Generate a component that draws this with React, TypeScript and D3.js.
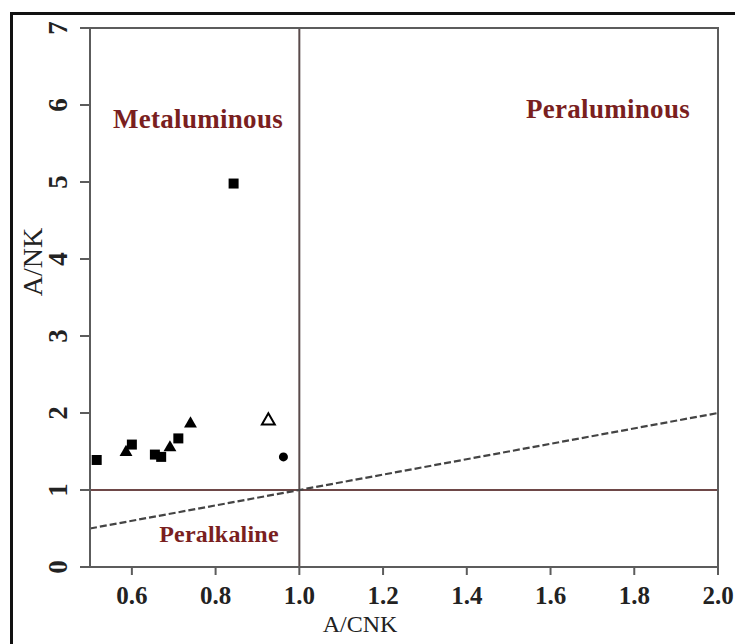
import React from "react";
import * as d3 from "d3";

const xTicks = [0.6, 0.8, 1.0, 1.2, 1.4, 1.6, 1.8, 2.0];
const yTicks = [0, 1, 2, 3, 4, 5, 6, 7];

const squareX = [0.843, 0.516, 0.6, 0.655, 0.67, 0.711];
const squareY = [4.98, 1.39, 1.59, 1.46, 1.43, 1.67];
const triangleX = [0.586, 0.691, 0.74];
const triangleY = [1.49, 1.55, 1.86];
const openTriangleX = [0.926];
const openTriangleY = [1.9];
const circleX = [0.962];
const circleY = [1.43];

const boundaryX = [0.5, 2.0];
const boundaryY = [0.5, 2.0];

const regionLabels = ["Metaluminous", "Peraluminous", "Peralkaline"];

const SERIF = "'Liberation Serif', 'Times New Roman', Times, serif";
const RED = "#7a1f1f";
const AXIS = "#5c5c5c";

export default function App() {
  const W = 735;
  const H = 644;
  const x = d3.scaleLinear().domain([0.5, 2.0]).range([90, 718]);
  const y = d3.scaleLinear().domain([0, 7]).range([567, 28]);

  const sq = d3.symbol().type(d3.symbolSquare).size(100)();
  const tri = d3.symbol().type(d3.symbolTriangle).size(72)();
  const circ = d3.symbol().type(d3.symbolCircle).size(64)();

  const dashed = d3
    .line<number>()
    .x((d) => x(boundaryX[d]))
    .y((d) => y(boundaryY[d]))([0, 1]);

  return (
    <div style={{ position: "fixed", left: 0, top: 0, width: W, height: H, background: "#fff" }}>
      <svg width={W} height={H} style={{ display: "block" }}>
        <rect x={0} y={0} width={W} height={H} fill="#fff" />
        {/* outer frame */}
        <path d={`M11.5,${H + 5} L11.5,13.5 L${W + 5},13.5`} fill="none" stroke="#111" strokeWidth={3} />

        {/* region boundary lines */}
        <line x1={x(1.0)} x2={x(1.0)} y1={y(7)} y2={y(0)} stroke="#5a4b4b" strokeWidth={2} />
        <line x1={x(0.5)} x2={x(2.0)} y1={y(1)} y2={y(1)} stroke="#6e4848" strokeWidth={2} />
        <path d={dashed || ""} fill="none" stroke="#444" strokeWidth={2.2} strokeDasharray="7,3" />

        {/* plot frame */}
        <rect x={x(0.5)} y={y(7)} width={x(2.0) - x(0.5)} height={y(0) - y(7)} fill="none" stroke={AXIS} strokeWidth={2} />

        {/* y ticks */}
        {yTicks.map((t) => (
          <g key={"y" + t}>
            <line x1={x(0.5) - 10} x2={x(0.5)} y1={y(t)} y2={y(t)} stroke={AXIS} strokeWidth={2} />
            <text
              transform={`translate(67,${y(t)}) rotate(-90)`}
              textAnchor="middle"
              fontFamily={SERIF}
              fontWeight="bold"
              fontSize={27}
              fill="#222"
            >
              {t}
            </text>
          </g>
        ))}

        {/* x ticks */}
        {xTicks.map((t) => (
          <g key={"x" + t}>
            <line x1={x(t)} x2={x(t)} y1={y(0)} y2={y(0) + 8} stroke={AXIS} strokeWidth={2} />
            <text
              x={x(t)}
              y={604}
              textAnchor="middle"
              fontFamily={SERIF}
              fontWeight="bold"
              fontSize={25}
              fill="#222"
            >
              {t.toFixed(1)}
            </text>
          </g>
        ))}

        {/* axis titles */}
        <text x={360} y={632} textAnchor="middle" fontFamily={SERIF} fontSize={24} fill="#222">
          A/CNK
        </text>
        <text
          transform={`translate(42,262) rotate(-90)`}
          textAnchor="middle"
          fontFamily={SERIF}
          fontSize={28}
          fill="#222"
        >
          A/NK
        </text>

        {/* region labels */}
        <text x={198} y={128} textAnchor="middle" fontFamily={SERIF} fontWeight="bold" fontSize={27} fill={RED} letterSpacing={0.3}>
          {regionLabels[0]}
        </text>
        <text x={608} y={118} textAnchor="middle" fontFamily={SERIF} fontWeight="bold" fontSize={27} fill={RED} letterSpacing={0.3}>
          {regionLabels[1]}
        </text>
        <text x={219} y={542} textAnchor="middle" fontFamily={SERIF} fontWeight="bold" fontSize={24} fill={RED} letterSpacing={0.2}>
          {regionLabels[2]}
        </text>

        {/* data points */}
        {squareX.map((v, i) => (
          <path key={"s" + i} d={sq || ""} transform={`translate(${x(v)},${y(squareY[i])})`} fill="#000" />
        ))}
        {triangleX.map((v, i) => (
          <path key={"t" + i} d={tri || ""} transform={`translate(${x(v)},${y(triangleY[i])})`} fill="#000" />
        ))}
        {openTriangleX.map((v, i) => (
          <path
            key={"o" + i}
            d={tri || ""}
            transform={`translate(${x(v)},${y(openTriangleY[i])})`}
            fill="#fff"
            stroke="#000"
            strokeWidth={2}
          />
        ))}
        {circleX.map((v, i) => (
          <path key={"c" + i} d={circ || ""} transform={`translate(${x(v)},${y(circleY[i])})`} fill="#000" />
        ))}
      </svg>
    </div>
  );
}
